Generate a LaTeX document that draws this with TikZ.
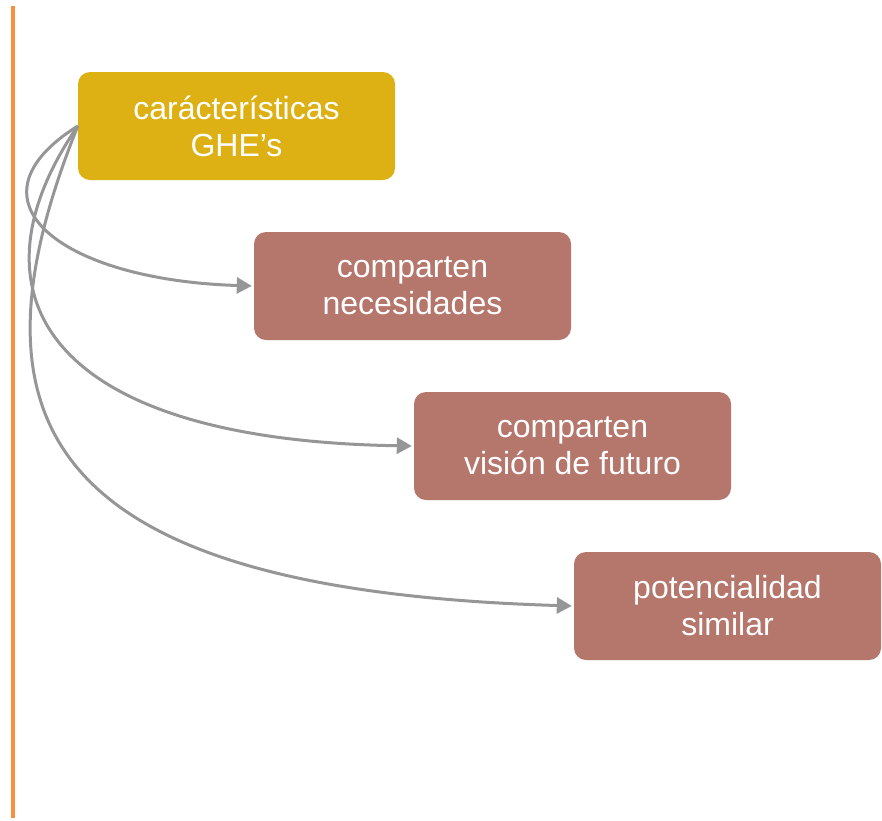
\documentclass[tikz,border=0pt]{standalone}
\usepackage{fontspec}
\setmainfont{Liberation Sans}
\usetikzlibrary{arrows.meta}
\definecolor{goldbox}{RGB}{221,177,19}
\definecolor{rosebox}{RGB}{181,118,108}
\definecolor{linkgray}{RGB}{150,150,150}
\definecolor{sidebar}{RGB}{247,145,61}
\tikzset{
  box/.style={rounded corners=12pt, minimum width=317pt, minimum height=108pt,
    inner sep=0pt, text=white, align=center,
    font=\fontsize{32pt}{37pt}\selectfont},
  headbox/.style={box, fill=goldbox},
  itembox/.style={box, fill=rosebox},
  link/.style={draw=linkgray, line width=3pt, shorten >=2pt,
    -{Triangle[length=15pt,width=16pt]}}
}
\begin{document}
\begin{tikzpicture}[x=1pt,y=-1pt]
  \useasboundingbox (0,0) rectangle (882,820);
  % left accent bar
  \coordinate (bartop) at (13,6);
  \coordinate (barbot) at (13,818);
  \draw[sidebar, line width=4pt] (bartop) -- (barbot);

  \node[headbox] (head) at (236.5,126) {carácterísticas\\GHE’s};
  \node[itembox] (one) at (412.5,286) {comparten\\necesidades};
  \node[itembox] (two) at (572.5,446) {comparten\\visión de futuro};
  \node[itembox, minimum width=307pt] (three) at (727.5,606) {potencialidad\\similar};

  \draw[link] (head.west) .. controls +(-118,74) and +(-194,-6) .. (one.west);
  \draw[link] (head.west) .. controls +(-113,164) and +(-374,-6) .. (two.west);
  \draw[link] (head.west) .. controls +(-118,294) and +(-534,-16) .. (three.west);
\end{tikzpicture}
\end{document}
